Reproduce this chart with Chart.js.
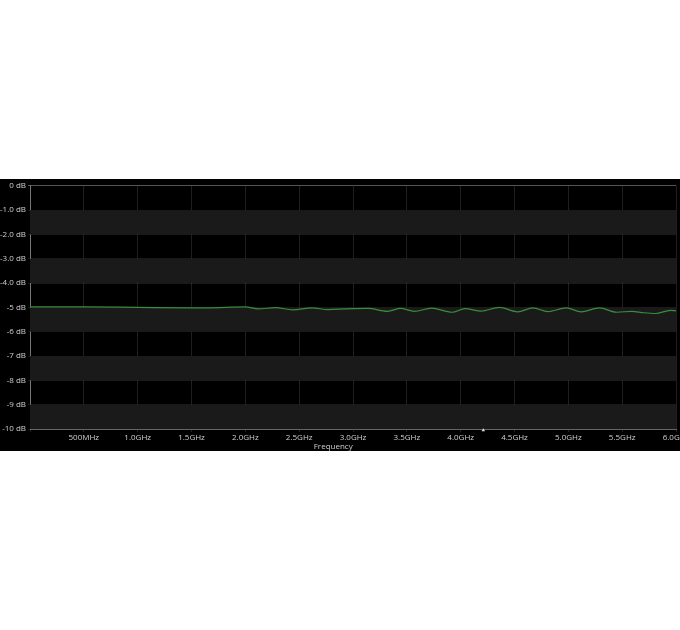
<!DOCTYPE html>
<html>
<head>
<meta charset="utf-8">
<script src="https://cdn.jsdelivr.net/npm/chart.js@4"></script>
<style>
  html, body { margin: 0; padding: 0; background: #fff; }
  #wrap { position: absolute; left: 0; top: 179px; width: 680px; height: 272px; background: #000; }
</style>
</head>
<body>
<div id="wrap"><canvas id="respChart"></canvas></div>
<script>
// values (GHz, dB)
const freqGHz = [0.0, 0.5, 1.0, 1.49, 1.63, 2.0, 2.12, 2.28, 2.44, 2.62, 2.77, 2.93, 3.14, 3.32, 3.44, 3.57,
                 3.73, 3.92, 4.04, 4.19, 4.36, 4.53, 4.67, 4.81, 4.98, 5.12, 5.29, 5.45, 5.59, 5.70, 5.81, 5.95, 6.0];
const gainDb = [-4.98, -4.98, -5.00, -5.02, -5.02, -4.98, -5.06, -5.01, -5.10, -5.02, -5.09, -5.06, -5.04, -5.16, -5.04, -5.16,
                -5.03, -5.20, -5.05, -5.15, -5.00, -5.18, -5.02, -5.17, -5.02, -5.18, -5.02, -5.20, -5.16, -5.22, -5.25, -5.12, -5.14];

const yTickLabels = ['0 dB', '-1.0 dB', '-2.0 dB', '-3.0 dB', '-4.0 dB', '-5 dB', '-6 dB', '-7 dB', '-8 dB', '-9 dB', '-10 dB'];
const xTickLabels = ['', '500MHz', '1.0GHz', '1.5GHz', '2.0GHz', '2.5GHz', '3.0GHz', '3.5GHz', '4.0GHz', '4.5GHz', '5.0GHz', '5.5GHz', '6.0GHz'];

const marker = [{ x: 4.21, y: -10.05 }];

// grey bands every other dB
const bands = {
    id: 'bands',
    beforeDatasetsDraw(chart) {
        const { ctx, chartArea, scales } = chart;
        ctx.save();
        ctx.fillStyle = '#1a1a1a';
        for (let v = -1; v > -10; v -= 2) {
            const top = scales.y.getPixelForValue(v);
            const bot = scales.y.getPixelForValue(v - 1);
            ctx.fillRect(chartArea.left, top, chartArea.right - chartArea.left, bot - top);
        }
        ctx.restore();
    }
};

// axis title sits a bit left of centre in the original
const freqTitle = {
    id: 'freqTitle',
    afterDraw(chart) {
        const ctx = chart.ctx;
        ctx.save();
        ctx.fillStyle = '#d0d0d0';
        ctx.font = '8px "Open Sans", "Noto Sans", sans-serif';
        ctx.textAlign = 'center';
        ctx.textBaseline = 'middle';
        ctx.fillText('Frequency', chart.width * 0.49, chart.height - 4);
        ctx.restore();
    }
};

Chart.defaults.font.family = '"Open Sans", "Noto Sans", sans-serif';

new Chart(document.getElementById('respChart'), {
    type: 'line',
    data: {
        datasets: [
            {
                data: freqGHz.map((f, i) => ({ x: f, y: gainDb[i] })),
                borderColor: '#3b8d3b',
                borderWidth: 1.2,
                pointRadius: 0,
                cubicInterpolationMode: 'monotone'
            },
            {
                data: marker,
                showLine: false,
                pointStyle: 'triangle',
                pointRadius: 2,
                backgroundColor: '#ddd',
                borderWidth: 0,
                clip: false
            }
        ]
    },
    options: {
        responsive: true,
        maintainAspectRatio: false,
        animation: false,
        layout: { padding: { top: 6, right: 3, left: 0, bottom: 0 } },
        plugins: { legend: { display: false }, tooltip: { enabled: false } },
        scales: {
            x: {
                type: 'linear',
                min: 0,
                max: 6,
                afterFit(scale) { scale.height = 22; scale.paddingLeft = 0; scale.paddingRight = 0; },
                afterBuildTicks(scale) { scale.ticks = xTickLabels.map((_, i) => ({ value: i * 0.5 })); },
                ticks: {
                    autoSkip: false,
                    maxRotation: 0,
                    padding: 1,
                    color: '#d0d0d0',
                    font: { size: 8 },
                    callback: (v, i) => xTickLabels[i]
                },
                grid: { color: 'rgba(255,255,255,0.12)', tickLength: 3 },
                border: { color: '#666' }
            },
            y: {
                min: -10,
                max: 0,
                afterFit(scale) { scale.width = 30; },
                afterBuildTicks(scale) { scale.ticks = yTickLabels.map((_, i) => ({ value: -i })); },
                ticks: {
                    autoSkip: false,
                    padding: 2,
                    color: '#d0d0d0',
                    font: { size: 8 },
                    callback: (v, i) => yTickLabels[i]
                },
                grid: {
                    color: (c) => c.tick && c.tick.value === 0 ? '#555' : 'rgba(255,255,255,0.1)',
                    tickLength: 2
                },
                border: { color: '#777' }
            }
        }
    },
    plugins: [bands, freqTitle]
});
</script>
</body>
</html>
